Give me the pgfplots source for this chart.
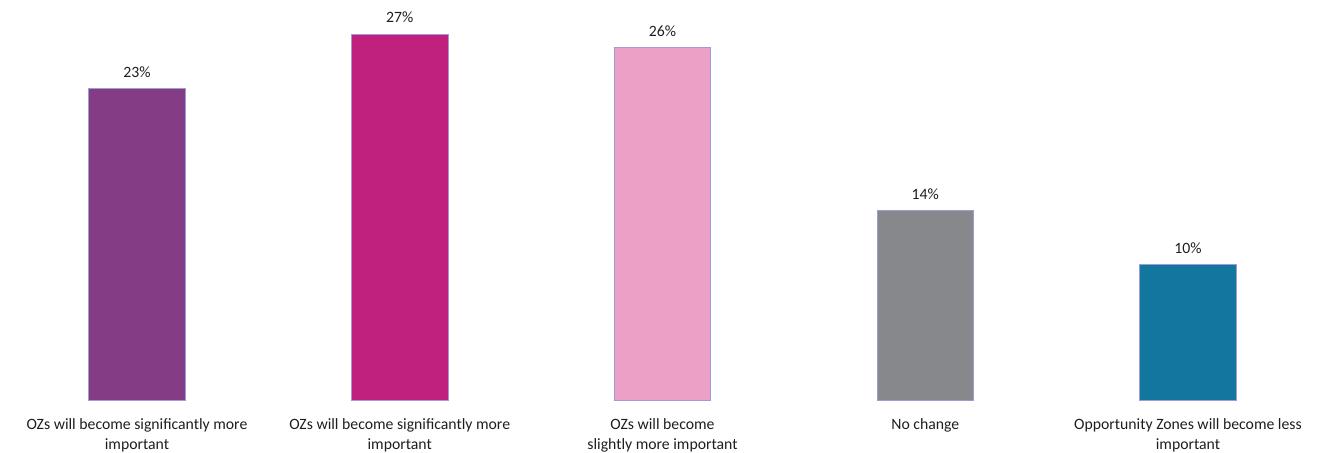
\documentclass[border=0pt]{standalone}
\usepackage{pgfplots}
\pgfplotsset{compat=1.18}
\usepackage{fontspec}
\setmainfont{Carlito}
\definecolor{cA}{HTML}{843C84}
\definecolor{cB}{HTML}{C0217E}
\definecolor{cC}{HTML}{ECA0C6}
\definecolor{cD}{HTML}{87888C}
\definecolor{cE}{HTML}{13769E}
\definecolor{edgec}{HTML}{9C9CD8}
\definecolor{txt}{HTML}{1E1E1E}
\begin{document}
\begin{tikzpicture}
\begin{axis}[
  name=ax,
  scale only axis,
  width=1001.25pt, height=300pt,
  xmin=-0.5214, xmax=4.5595,
  ymin=0, ymax=29.52,
  hide y axis,
  axis x line*=bottom,
  x axis line style={draw=none},
  major tick length=0pt,
  xtick={0,1,2,3,4},
  xticklabels={OZs will become significantly more\\important,
               OZs will become significantly more\\important,
               OZs will become\\slightly more important,
               No change,
               Opportunity Zones will become less\\important},
  xticklabel style={font=\fontsize{11.8}{15}\selectfont, text=txt, align=center, anchor=north, inner sep=0pt, yshift=-13.5pt},
  ybar, bar width=72.5pt, bar shift=0pt,
  /pgf/number format/assume math mode=true,
  nodes near coords={\pgfmathprintnumber{\pgfplotspointmeta}\%},
  every node near coord/.append style={font=\fontsize{11.8}{13.6}\selectfont, text=txt, anchor=south, inner sep=0pt, yshift=8pt},
  clip=false,
]
\addplot[fill=cA, draw=edgec, line width=0.6pt] coordinates {(0,23)};
\addplot[fill=cB, draw=edgec, line width=0.6pt] coordinates {(1,27)};
\addplot[fill=cC, draw=edgec, line width=0.6pt] coordinates {(2,26)};
\addplot[fill=cD, draw=edgec, line width=0.6pt] coordinates {(3,14)};
\addplot[fill=cE, draw=edgec, line width=0.6pt] coordinates {(4,10)};
\end{axis}
\pgfresetboundingbox
\path (ax.south west) ++(0,-39.75pt) rectangle (ax.north east);
\end{tikzpicture}
\end{document}
